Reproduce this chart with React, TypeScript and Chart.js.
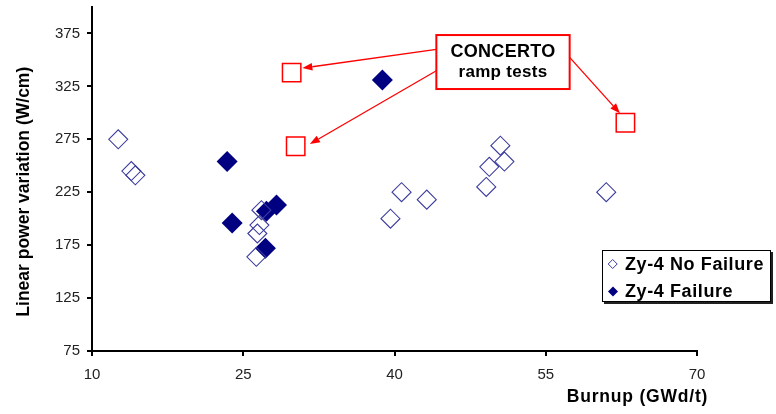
import React, { useEffect, useRef } from "react";
import { Chart, registerables } from "chart.js";

Chart.register(...registerables);

// ---- data ----
const seriesNames = ["Zy-4 No Failure", "Zy-4 Failure", "CONCERTO ramp tests"];
const noFailureBurnup = [12.6, 13.9, 14.3, 26.8, 26.6, 26.4, 26.3, 40.7, 39.6, 43.2, 50.5, 50.9, 49.4, 49.1, 61.0];
const noFailurePower = [275, 245, 241, 208, 194, 186, 164, 225, 200, 218, 269, 254, 249, 230, 225];
const failureBurnup = [23.4, 23.9, 27.3, 28.3, 27.2, 38.8];
const failurePower = [254, 196, 207, 213, 172, 331];
const concertoBurnup = [29.8, 30.2, 62.9];
const concertoPower = [338, 268.5, 290.7];
const xTicks = [10, 25, 40, 55, 70];
const yTicks = [75, 125, 175, 225, 275, 325, 375];
const xTitle = "Burnup (GWd/t)";
const yTitle = "Linear power variation (W/cm)";
const calloutLines = ["CONCERTO", "ramp tests"];

const toPoints = (xs: number[], ys: number[]) => xs.map((x, i) => ({ x, y: ys[i] }));

const NAVY = "#000080";
const HOLLOW = "#3b3b9e";
const RED = "#ff0000";

function drawArrow(ctx: CanvasRenderingContext2D, x1: number, y1: number, x2: number, y2: number) {
  const ang = Math.atan2(y2 - y1, x2 - x1);
  const len = 10;
  const half = 3.8;
  const bx = x2 - Math.cos(ang) * len;
  const by = y2 - Math.sin(ang) * len;
  ctx.beginPath();
  ctx.moveTo(x1, y1);
  ctx.lineTo(bx, by);
  ctx.stroke();
  ctx.beginPath();
  ctx.moveTo(x2, y2);
  ctx.lineTo(bx + Math.sin(ang) * half, by - Math.cos(ang) * half);
  ctx.lineTo(bx - Math.sin(ang) * half, by + Math.cos(ang) * half);
  ctx.closePath();
  ctx.fill();
}

const decorPlugin = {
  id: "decor",
  afterDatasetsDraw(chart: any) {
    const ctx: CanvasRenderingContext2D = chart.ctx;
    const xs = chart.scales.x;
    const ys = chart.scales.y;
    // callout box (data coordinates)
    const bl = xs.getPixelForValue(44.15);
    const br = xs.getPixelForValue(57.37);
    const bt = ys.getPixelForValue(373.5);
    const bb = ys.getPixelForValue(322.5);
    ctx.save();
    ctx.strokeStyle = RED;
    ctx.fillStyle = RED;
    ctx.lineWidth = 1.3;
    const p = concertoBurnup.map((b, i) => ({ x: xs.getPixelForValue(b), y: ys.getPixelForValue(concertoPower[i]) }));
    drawArrow(ctx, bl, bt + 14.3, p[0].x + 10.7, p[0].y - 4.5);
    drawArrow(ctx, bl, bt + 35.7, p[1].x + 14.2, p[1].y - 2.2);
    drawArrow(ctx, br, bt + 22.3, p[2].x - 5.5, p[2].y - 9.4);
    ctx.fillStyle = "#fff";
    ctx.fillRect(bl, bt, br - bl, bb - bt);
    ctx.lineWidth = 2;
    ctx.strokeRect(bl, bt, br - bl, bb - bt);
    ctx.fillStyle = "#000";
    ctx.textAlign = "center";
    ctx.textBaseline = "alphabetic";
    (ctx as any).letterSpacing = "0.3px";
    ctx.font = "bold 18px 'Liberation Sans', Arial, sans-serif";
    ctx.fillText(calloutLines[0], (bl + br) / 2, bt + 21.7);
    ctx.font = "bold 17px 'Liberation Sans', Arial, sans-serif";
    ctx.fillText(calloutLines[1], (bl + br) / 2, bt + 42.3);
    ctx.restore();
  },
  afterDraw(chart: any) {
    const ctx: CanvasRenderingContext2D = chart.ctx;
    ctx.save();
    // legend
    const lx = 602, ly = 250, lw = 169, lh = 52;
    ctx.fillStyle = "#222";
    ctx.fillRect(lx + 2, ly + 2, lw, lh);
    ctx.fillStyle = "#fff";
    ctx.fillRect(lx, ly, lw, lh);
    ctx.strokeStyle = "#000";
    ctx.lineWidth = 1;
    ctx.strokeRect(lx + 0.5, ly + 0.5, lw - 1, lh - 1);
    // markers
    const diamond = (cx: number, cy: number, r: number) => {
      ctx.beginPath();
      ctx.moveTo(cx, cy - r);
      ctx.lineTo(cx + r, cy);
      ctx.lineTo(cx, cy + r);
      ctx.lineTo(cx - r, cy);
      ctx.closePath();
    };
    diamond(612.7, 264, 4.5);
    ctx.strokeStyle = HOLLOW;
    ctx.lineWidth = 1;
    ctx.stroke();
    diamond(613, 291.5, 5);
    ctx.fillStyle = NAVY;
    ctx.fill();
    ctx.fillStyle = "#000";
    ctx.textAlign = "left";
    ctx.textBaseline = "alphabetic";
    (ctx as any).letterSpacing = "0.6px";
    ctx.font = "bold 18px 'Liberation Sans', Arial, sans-serif";
    ctx.fillText(seriesNames[0], 625, 269.5);
    ctx.fillText(seriesNames[1], 625, 297);
    // axis titles
    (ctx as any).letterSpacing = "0.8px";
    ctx.font = "bold 17.5px 'Liberation Sans', Arial, sans-serif";
    ctx.textAlign = "center";
    ctx.fillText(xTitle, 637.5, 401.5);
    (ctx as any).letterSpacing = "0px";
    ctx.translate(28.5, 191.7);
    ctx.rotate(-Math.PI / 2);
    ctx.fillText(yTitle, 0, 0);
    ctx.restore();
  },
};

const bgPlugin = {
  id: "bg",
  beforeDraw(chart: any) {
    const ctx = chart.ctx;
    ctx.save();
    ctx.fillStyle = "#fff";
    ctx.fillRect(0, 0, chart.width, chart.height);
    ctx.restore();
  },
};

export default function App() {
  const ref = useRef<HTMLCanvasElement>(null);
  useEffect(() => {
    if (!ref.current) return;
    const tickFont = { family: "'Liberation Sans', Arial, sans-serif", size: 15 };
    const chart = new Chart(ref.current, {
      type: "scatter",
      data: {
        datasets: [
          {
            label: seriesNames[0],
            data: toPoints(noFailureBurnup, noFailurePower),
            pointStyle: "rectRot",
            pointRadius: 9.5,
            pointHoverRadius: 9.5,
            backgroundColor: "rgba(0,0,0,0)",
            borderColor: HOLLOW,
            borderWidth: 1.1,
          },
          {
            label: seriesNames[1],
            data: toPoints(failureBurnup, failurePower),
            pointStyle: "rectRot",
            pointRadius: 10.5,
            pointHoverRadius: 10.5,
            backgroundColor: NAVY,
            borderColor: NAVY,
            borderWidth: 0,
          },
          {
            label: seriesNames[2],
            data: toPoints(concertoBurnup, concertoPower),
            pointStyle: "rect",
            pointRadius: 13,
            pointHoverRadius: 13,
            backgroundColor: "#fff",
            borderColor: RED,
            borderWidth: 1.5,
          },
        ],
      },
      options: {
        responsive: false,
        animation: false,
        events: [],
        layout: { autoPadding: false, padding: { top: 7, right: 79, left: 0, bottom: 0 } },
        plugins: { legend: { display: false }, tooltip: { enabled: false } },
        scales: {
          x: {
            type: "linear",
            min: 10,
            max: 70,
            afterBuildTicks: (s: any) => {
              s.ticks = xTicks.map((v) => ({ value: v }));
            },
            afterFit: (s: any) => {
              s.height = 63;
            },
            ticks: { font: tickFont, color: "#222", padding: 10, maxRotation: 0 },
            grid: { drawOnChartArea: false, drawTicks: true, tickLength: 5, color: "#000", lineWidth: 2 },
            border: { color: "#000", width: 2 },
          },
          y: {
            type: "linear",
            min: 75,
            max: 400,
            afterBuildTicks: (s: any) => {
              s.ticks = yTicks.map((v) => ({ value: v }));
            },
            afterFit: (s: any) => {
              s.width = 92;
            },
            ticks: { font: { ...tickFont, lineHeight: 0 }, color: "#222", padding: 7 },
            grid: { drawOnChartArea: false, drawTicks: true, tickLength: 5, color: "#000", lineWidth: 2 },
            border: { color: "#000", width: 2 },
          },
        },
      },
      plugins: [bgPlugin, decorPlugin],
    } as any);
    return () => chart.destroy();
  }, []);
  return (
    <div style={{ position: "fixed", left: 0, top: 0, width: 776, height: 414, background: "#fff" }}>
      <canvas ref={ref} width={776} height={414} style={{ display: "block" }} />
    </div>
  );
}
